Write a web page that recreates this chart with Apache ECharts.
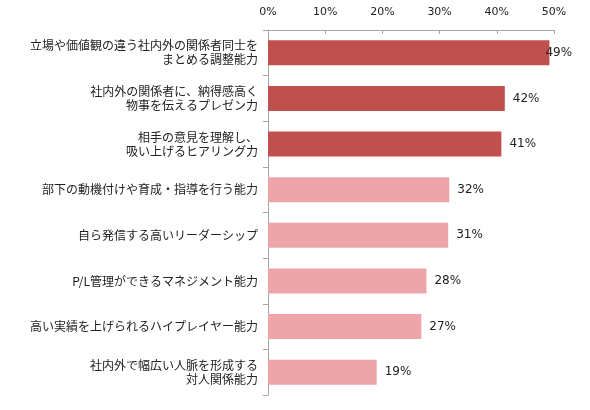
<!DOCTYPE html>
<html>
<head>
<meta charset="utf-8">
<script src="https://cdn.jsdelivr.net/npm/echarts@6/dist/echarts.min.js"></script>
<style>
  html, body { margin: 0; padding: 0; background: #fff; }
  #main { width: 590px; height: 410px; }
</style>
</head>
<body>
<div id="main"></div>
<script>
// 項目と割合（%）
var categories = [
  '立場や価値観の違う社内外の関係者同士を\nまとめる調整能力',
  '社内外の関係者に、納得感高く\n物事を伝えるプレゼン力',
  '相手の意見を理解し、\n吸い上げるヒアリング力',
  '部下の動機付けや育成・指導を行う能力',
  '自ら発信する高いリーダーシップ',
  'P/L管理ができるマネジメント能力',
  '高い実績を上げられるハイプレイヤー能力',
  '社内外で幅広い人脈を形成する\n対人関係能力'
];
var values = [49.2, 41.4, 40.8, 31.7, 31.5, 27.7, 26.8, 19.0];
var labels = ['49%', '42%', '41%', '32%', '31%', '28%', '27%', '19%'];
var xTicks = [0, 10, 20, 30, 40, 50];

var dark = '#C0504D';
var light = '#EDA5AA';
var font = '"Noto Sans CJK JP", "DejaVu Sans", sans-serif';
var numFont = '"DejaVu Sans", sans-serif';

var seriesData = values.map(function(v, i) {
  var item = {
    value: v,
    itemStyle: { color: i < 3 ? dark : light }
  };
  if (i === 0) {
    item.label = { offset: [-12, 0] };
  }
  return item;
});

var myChart = echarts.init(document.getElementById('main'));
var option = {
  animation: false,
  backgroundColor: '#fff',
  grid: { left: 268, right: 36, top: 30, bottom: 15 },
  xAxis: {
    type: 'value',
    position: 'top',
    min: xTicks[0],
    max: xTicks[xTicks.length - 1],
    interval: 10,
    axisLine: { show: true, lineStyle: { color: '#A6A6A6' } },
    axisTick: { show: true, inside: true, length: 4, lineStyle: { color: '#A6A6A6' } },
    splitLine: { show: false },
    axisLabel: {
      formatter: '{value}%',
      color: '#222',
      fontSize: 11,
      fontFamily: numFont,
      margin: 12
    }
  },
  yAxis: {
    type: 'category',
    inverse: true,
    data: categories,
    axisLine: { show: true, lineStyle: { color: '#A6A6A6' } },
    axisTick: { show: true, length: 5, lineStyle: { color: '#A6A6A6' } },
    axisLabel: {
      color: '#222',
      fontSize: 12,
      lineHeight: 14,
      fontFamily: font,
      margin: 10,
      align: 'right'
    }
  },
  series: [{
    type: 'bar',
    data: seriesData,
    barCategoryGap: '45%',
    label: {
      show: true,
      position: 'right',
      distance: 8,
      color: '#222',
      fontSize: 12,
      fontFamily: numFont,
      formatter: function(p) { return labels[p.dataIndex]; }
    }
  }]
};
myChart.setOption(option);
</script>
</body>
</html>
